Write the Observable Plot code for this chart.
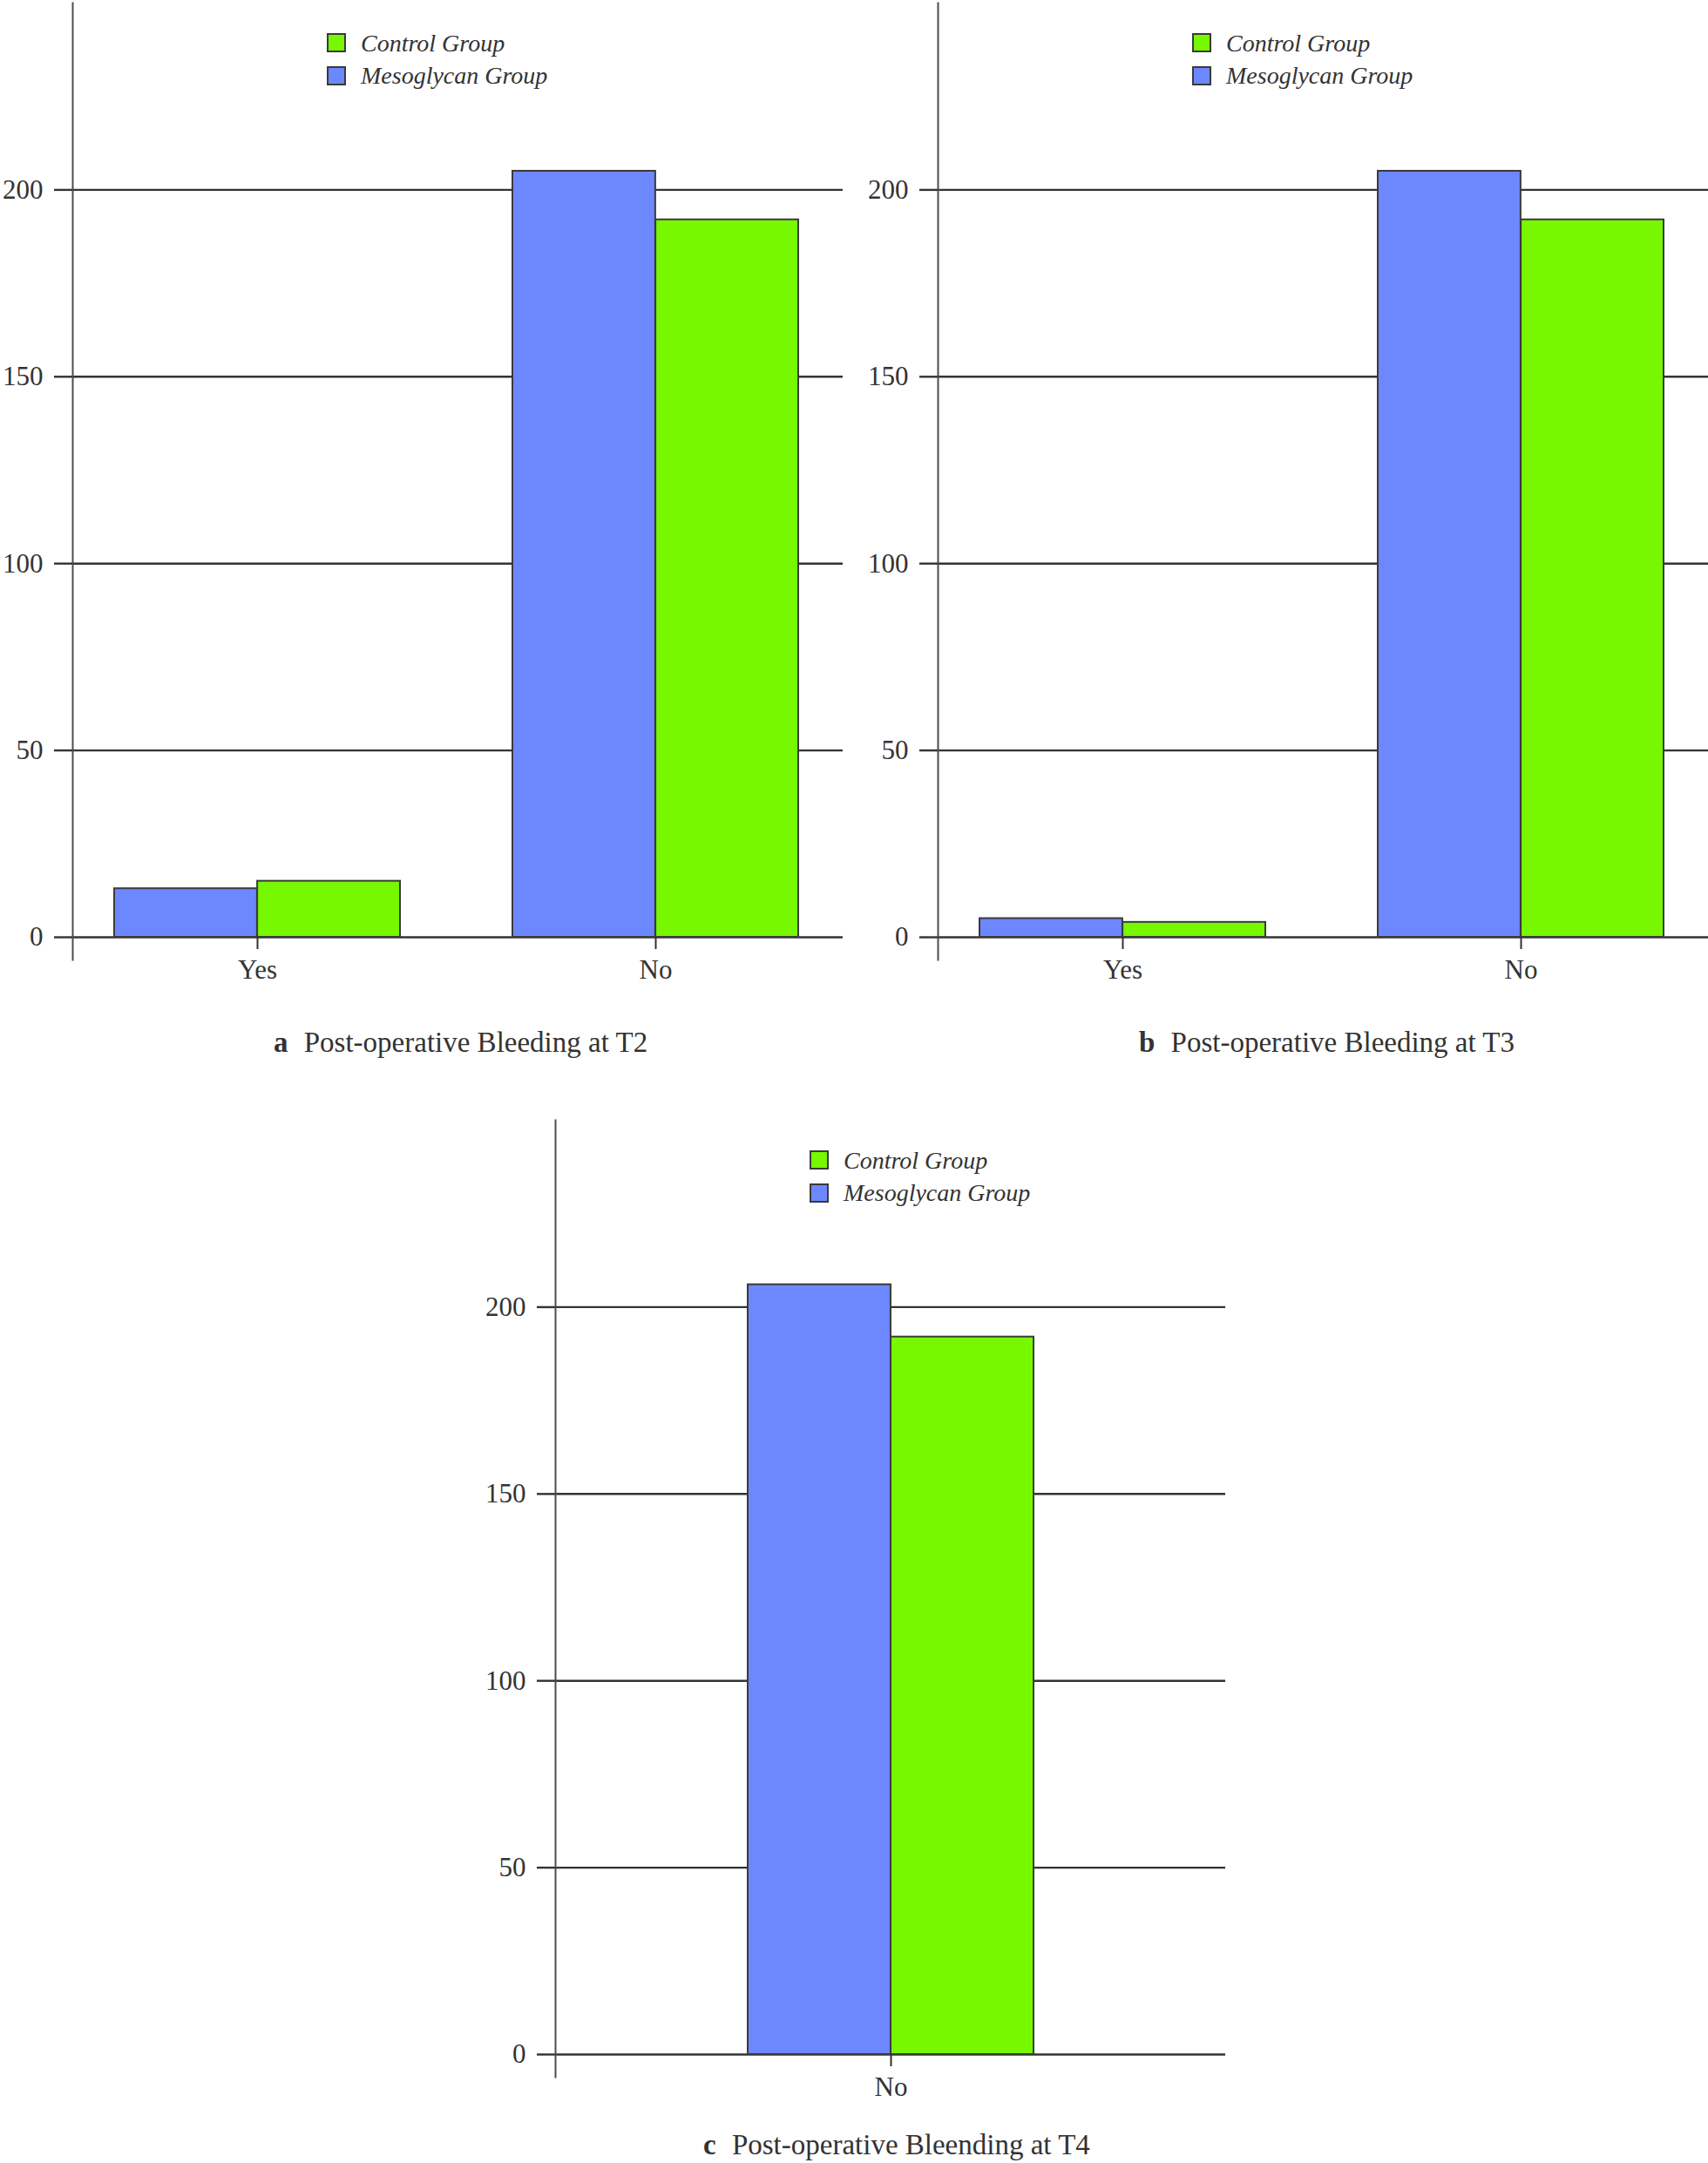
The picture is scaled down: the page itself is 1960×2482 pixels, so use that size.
<!DOCTYPE html>
<html>
<head>
<meta charset="utf-8">
<script src="https://cdn.jsdelivr.net/npm/d3@7"></script>
<script src="https://cdn.jsdelivr.net/npm/@observablehq/plot@0.6"></script>
<style>
  html, body { margin: 0; padding: 0; background: #fff; }
  #page { position: relative; width: 1960px; height: 2482px; overflow: hidden; background: #fff;
          font-family: "Liberation Serif", "Times New Roman", serif; color: #333; }
  .panel { position: absolute; }
  .legend-swatch { position: absolute; width: 22px; height: 22px; box-sizing: border-box; border: 2px solid #3a3a3a; }
  .legend-text { position: absolute; font-style: italic; font-size: 28px; line-height: 28px; white-space: nowrap; color: #333; }
  .caption { position: absolute; font-size: 33px; line-height: 33px; white-space: nowrap; color: #333; }
  .caption b { margin-right: 10px; }
</style>
</head>
<body>
<div id="page"></div>
<script>
// ---- data ----
const groups = ["Mesoglycan Group", "Control Group"];
const groupColors = ["#6d87ff", "#77f700"];
const legendOrder = ["Control Group", "Mesoglycan Group"];
const yTicks = [0, 50, 100, 150, 200];

const t2Categories = ["Yes", "No"];
const t2Mesoglycan = [13, 205];
const t2Control = [15, 192];

const t3Categories = ["Yes", "No"];
const t3Mesoglycan = [5, 205];
const t3Control = [4, 192];

const t4Categories = ["No"];
const t4Mesoglycan = [206];
const t4Control = [192];

const captions = [
  {letter: "a", text: "Post-operative Bleeding at T2"},
  {letter: "b", text: "Post-operative Bleeding at T3"},
  {letter: "c", text: "Post-operative Bleending at T4"}
];

// ---- layout ----
const ML = 83, MR = 0, MT = 3, MB = 55, H = 1130;
const fontFamily = '"Liberation Serif", "Times New Roman", serif';
const page = document.getElementById("page");

function makePlot(cats, meso, ctrl, width, pi, po, align) {
  const data = cats.flatMap((c, i) => [
    {category: c, group: groups[0], value: meso[i]},
    {category: c, group: groups[1], value: ctrl[i]}
  ]);
  const n = cats.length;
  const inner = width - ML - MR;
  const bw = inner * (1 - pi) / (n - pi + 2 * po);
  return Plot.plot({
    width, height: H,
    marginTop: MT, marginBottom: MB, marginLeft: ML, marginRight: MR,
    style: {fontFamily, fontSize: "31px", color: "#333", background: "transparent", overflow: "visible"},
    x: {domain: cats, paddingInner: pi, paddingOuter: po, align, axis: null, label: null},
    y: {domain: [0, 250], axis: null, label: null},
    color: {domain: groups, range: groupColors},
    marks: [
      Plot.gridY(yTicks, {stroke: "#333", strokeOpacity: 1, strokeWidth: 2.4}),
      Plot.barY(data.filter(d => d.group === groups[0]), {
        x: "category", y: "value", fill: "group", stroke: "#3a3a3a", strokeWidth: 2, insetRight: bw / 2
      }),
      Plot.barY(data.filter(d => d.group === groups[1]), {
        x: "category", y: "value", fill: "group", stroke: "#3a3a3a", strokeWidth: 2, insetLeft: bw / 2
      }),
      Plot.frame({anchor: "left", stroke: "#4d4d4d", strokeWidth: 2, insetBottom: -26}),
      Plot.axisY(yTicks, {tickSize: 21, tickPadding: 13, strokeWidth: 2.4, label: null}),
      Plot.axisX({tickSize: 14, tickPadding: 11, strokeWidth: 2, label: null})
    ]
  });
}

function addPanel(plot, left, top, width) {
  const div = document.createElement("div");
  div.className = "panel";
  div.style.left = left + "px";
  div.style.top = top + "px";
  div.style.width = width + "px";
  div.style.height = H + "px";
  div.appendChild(plot);
  // legend
  const lx = ML + 292;
  legendOrder.forEach((g, i) => {
    const sw = document.createElement("div");
    sw.className = "legend-swatch";
    sw.style.left = lx + "px";
    sw.style.top = (38 + i * 38) + "px";
    sw.style.background = groupColors[groups.indexOf(g)];
    div.appendChild(sw);
    const tx = document.createElement("div");
    tx.className = "legend-text";
    tx.style.left = (lx + 39) + "px";
    tx.style.top = (36 + i * 37) + "px";
    tx.textContent = g;
    div.appendChild(tx);
  });
  page.appendChild(div);
}

function addCaption(cap, left, top) {
  const d = document.createElement("div");
  d.className = "caption";
  d.style.left = left + "px";
  d.style.top = top + "px";
  const b = document.createElement("b");
  b.textContent = cap.letter;
  d.appendChild(b);
  d.appendChild(document.createTextNode(" " + cap.text));
  page.appendChild(d);
}

addPanel(makePlot(t2Categories, t2Mesoglycan, t2Control, 967, 0.283, 0.107, 0.48), 0, 0, 967);
addPanel(makePlot(t3Categories, t3Mesoglycan, t3Control, 967, 0.283, 0.107, 0.48), 993, 0, 967);
addPanel(makePlot(t4Categories, t4Mesoglycan, t4Control, 852, 0, 0.672, 0.5), 554, 1282, 852);

addCaption(captions[0], 314, 1180);
addCaption(captions[1], 1307, 1180);
addCaption(captions[2], 807, 2445);
</script>
</body>
</html>
